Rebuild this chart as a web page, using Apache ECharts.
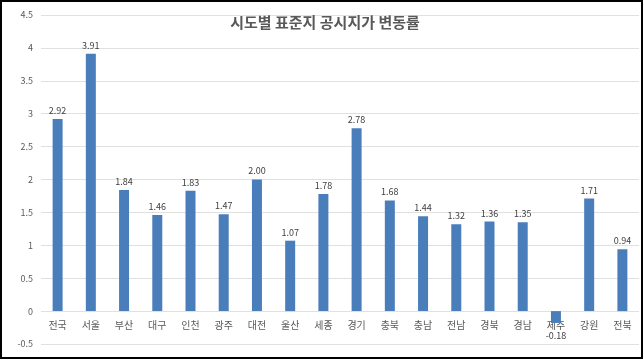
<!DOCTYPE html>
<html>
<head>
<meta charset="utf-8">
<script src="https://cdn.jsdelivr.net/npm/echarts@6/dist/echarts.min.js"></script>
<style>
html,body{margin:0;padding:0;background:#fff;}
#frame{position:absolute;left:0;top:0;width:643px;height:359px;box-sizing:border-box;border:2px solid #000;}
#chart{position:absolute;left:0;top:0;width:643px;height:359px;}
</style>
</head>
<body>
<div id="chart"></div>
<div id="frame"></div>
<script>
const titleText = '시도별 표준지 공시지가 변동률';
const categories = ['전국','서울','부산','대구','인천','광주','대전','울산','세종','경기','충북','충남','전남','경북','경남','제주','강원','전북'];
const values = [2.92,3.91,1.84,1.46,1.83,1.47,2.00,1.07,1.78,2.78,1.68,1.44,1.32,1.36,1.35,-0.18,1.71,0.94];
const yTicks = {min:-0.5, max:4.5, interval:0.5};

const font = '"Noto Sans CJK KR", "Noto Sans", sans-serif';
const chart = echarts.init(document.getElementById('chart'));
const gridTop = 15, gridBottom = 15, plotH = 359 - gridTop - gridBottom;
const zeroOffset = -plotH * (0 - yTicks.min) / (yTicks.max - yTicks.min);
chart.setOption({
  animation:false,
  textStyle:{fontFamily:font},
  title:{text:titleText, left:320, top:10, textAlign:'center',
    textStyle:{fontSize:15, fontWeight:'bold', color:'#595959', fontFamily:font}},
  grid:{left:41, right:4, top:gridTop, bottom:gridBottom, containLabel:false},
  xAxis:{type:'category', data:categories, position:'bottom', offset:zeroOffset,
    axisLine:{show:false, onZero:false},
    axisTick:{show:false},
    axisLabel:{color:'#595959', fontSize:10, margin:9, interval:0, fontFamily:font}},
  yAxis:{type:'value', min:yTicks.min, max:yTicks.max, interval:yTicks.interval,
    axisLine:{show:false}, axisTick:{show:false},
    splitLine:{lineStyle:{color:'#e0e0e0'}},
    axisLabel:{color:'#595959', fontSize:9, margin:8, fontFamily:font}},
  series:[{type:'bar', data:values.map(v => v < 0 ? {value:v, label:{distance:8}} : v), barWidth:10,
    itemStyle:{color:'#4A7EBB'},
    label:{show:true, position:'outside', distance:4, fontSize:9, color:'#404040',
      formatter:p=>p.value.toFixed(2), fontFamily:font}}]
});
</script>
</body>
</html>
